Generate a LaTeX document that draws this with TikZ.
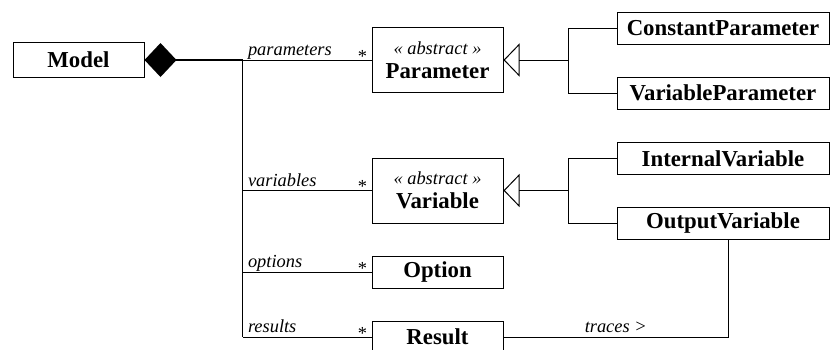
\documentclass[tikz,border=0pt]{standalone}
\usepackage{fontspec}
\setmainfont{Liberation Serif}
\usepackage{tikz}
\usetikzlibrary{positioning,arrows.meta}

\newcommand{\absstereo}{{\mdseries\itshape\fontsize{9.2}{11}\selectfont « abstract »}}

\begin{document}
\begin{tikzpicture}[node distance = 2cm, on grid, auto,
  class/.style={rectangle, draw, line width=0.5pt, minimum width=65.5pt, minimum height=16pt, inner sep=0pt, font=\fontsize{11.4}{12}\selectfont\bfseries},
  abstractclass/.style={class, minimum height=32.5pt, align=center},
  subclass/.style={class, minimum width=106pt},
  role/.style={above right, inner xsep=2.5pt, inner ysep=2pt, text depth=0pt, font=\fontsize{9.2}{11}\selectfont\itshape},
  mult/.style={anchor=base east, inner sep=0pt, xshift=-2pt, yshift=-1pt, font=\fontsize{9.2}{11}\selectfont},
  link/.style={line width=0.5pt},
  inherits/.style={link, -{Triangle[open, length=8pt, width=16.5pt]}}]

\useasboundingbox (0,0) rectangle (415pt,-174.5pt);

\node [class, minimum height=17.5pt] (model) at (39.25pt,-30pt) {Model};
\node [abstractclass, right=179.5pt of model] (param) {\absstereo\\Parameter};
\node [abstractclass, below=65.25pt of param] (var) {\absstereo\\Variable};
\node [class, below=40.75pt of var] (opt) {Option};
\node [class, below=32.5pt of opt] (res) {Result};

\node [subclass, above right=16pt and 142.75pt of param] (cparam) {ConstantParameter};
\node [subclass, below=32.5pt of cparam] (vparam) {VariableParameter};
\node [subclass, above right=16pt and 142.75pt of var] (ivar) {InternalVariable};
\node [subclass, below=32.5pt of ivar] (ovar) {OutputVariable};

\coordinate [right=49pt of model.east] (trunk);
\coordinate [right=32.5pt of param.east] (pjoin);
\coordinate [right=32.5pt of var.east] (vjoin);

\draw [link, line width=0.8pt, {Diamond[length=16pt, width=17pt]}-] (model.east) -- (trunk) -- (trunk |- res.west);
\draw [link] (trunk) -- (param.west) node [role, pos=0] {parameters} node [mult, pos=1] {*};
\draw [link] (trunk |- var.west) -- (var.west) node [role, pos=0] {variables} node [mult, pos=1] {*};
\draw [link] (trunk |- opt.west) -- (opt.west) node [role, pos=0] {options} node [mult, pos=1] {*};
\draw [link] (trunk |- res.west) -- (res.west) node [role, pos=0] {results} node [mult, pos=1] {*};

\draw [link] (cparam.west) -| (pjoin) |- (vparam.west);
\draw [inherits] (pjoin) -- (param.east);
\draw [link] (ivar.west) -| (vjoin) |- (ovar.west);
\draw [inherits] (vjoin) -- (var.east);

\draw [link] (res.east) -| ([xshift=2.5pt]ovar.south) node [role, pos=0.25, anchor=south] {traces >};

\end{tikzpicture}
\end{document}
